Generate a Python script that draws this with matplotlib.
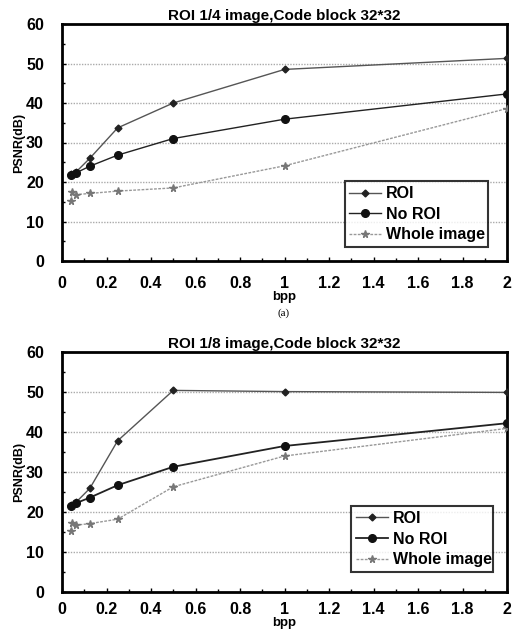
import matplotlib
matplotlib.use("Agg")
import matplotlib.pyplot as plt
from matplotlib.ticker import MultipleLocator

plt.rcParams['font.family'] = ['Liberation Sans', 'DejaVu Sans']

# Data
bpp = [0.04, 0.0625, 0.125, 0.25, 0.5, 1, 2]
bpp_whole = [0.04, 0.045, 0.0625, 0.125, 0.25, 0.5, 1, 2]

titles = ["ROI 1/4 image,Code block 32*32", "ROI 1/8 image,Code block 32*32"]
series_names = ["ROI", "No ROI", "Whole image"]

roi_a = [22.0, 22.5, 26.0, 33.7, 40.0, 48.5, 51.3]
noroi_a = [21.8, 22.3, 24.0, 26.8, 31.0, 35.9, 42.3]
whole_a = [15.2, 17.4, 16.8, 17.1, 17.7, 18.5, 24.1, 38.6]

roi_b = [21.7, 22.4, 25.9, 37.8, 50.4, 50.1, 49.9]
noroi_b = [21.5, 22.2, 23.6, 26.7, 31.3, 36.5, 42.2]
whole_b = [15.2, 17.3, 16.7, 17.1, 18.2, 26.3, 34.0, 40.9]

xticks = [0, 0.2, 0.4, 0.6, 0.8, 1, 1.2, 1.4, 1.6, 1.8, 2]
xticklabels = ["0", "0.2", "0.4", "0.6", "0.8", "1", "1.2", "1.4", "1.6", "1.8", "2"]
yticks = [0, 10, 20, 30, 40, 50, 60]

W, H = 513, 632
fig = plt.figure(figsize=(W / 100, H / 100), dpi=100)

def px_axes(l, t, r, b):
    return fig.add_axes([l / W, 1 - b / H, (r - l) / W, (b - t) / H])

ax1 = px_axes(62, 24, 507, 261)
ax2 = px_axes(62, 352, 507, 592)

datasets = [(ax1, roi_a, noroi_a, whole_a, (0.617, 0.025, 0.358, 0.32), 11, 0),
            (ax2, roi_b, noroi_b, whole_b, (0.632, 0.05, 0.355, 0.28), 7, 0)]

for i, (ax, roi, noroi, whole, lbox, xpad, lpad) in enumerate(datasets):
    ax.plot(bpp, roi, color='#555555', lw=1.0, marker='D', ms=3.5,
            mfc='#222222', mec='#222222', label=series_names[0], zorder=4)
    ax.plot(bpp, noroi, color='#222222', lw=1.3 if i == 1 else 1.0, marker='o', ms=5.5,
            mfc='#111111', mec='#111111', label=series_names[1], zorder=4)
    ax.plot(bpp_whole, whole, color='#999999', lw=1.0, ls=(0, (2, 1)), marker='*', ms=5.5,
            mfc='#777777', mec='#777777', label=series_names[2], zorder=3)
    ax.set_xlim(0, 2)
    ax.set_ylim(0, 60)
    ax.set_xticks(xticks)
    ax.set_xticklabels(xticklabels)
    ax.set_yticks(yticks)
    ax.xaxis.set_minor_locator(MultipleLocator(0.1))
    ax.yaxis.set_minor_locator(MultipleLocator(5))
    ax.tick_params(axis='both', which='major', direction='in', length=3, width=1,
                   labelsize=11.5)
    ax.tick_params(axis='x', which='major', pad=xpad)
    ax.tick_params(axis='y', which='major', pad=13)
    ax.tick_params(axis='both', which='minor', direction='in', length=2, width=1)
    for lab in ax.get_xticklabels() + ax.get_yticklabels():
        lab.set_fontweight('bold')
    for g in [10, 20, 30, 40, 50]:
        ax.axhline(g, color='#aaaaaa', lw=1.0, ls=(0, (1, 1)), zorder=1)
    for s in ax.spines.values():
        s.set_linewidth(2.0)
    ax.set_title(titles[i], fontsize=11, fontweight='bold', pad=3)
    ax.set_ylabel("PSNR(dB)", fontsize=9, fontweight='bold', labelpad=1)
    ax.set_xlabel("bpp", fontsize=9.5, fontweight='bold', labelpad=lpad)
    leg = ax.legend(loc='lower left', bbox_to_anchor=lbox, mode='expand',
                    prop={'weight': 'bold', 'size': 11.5},
                    frameon=True, fancybox=False, edgecolor='black',
                    handlelength=2.0, handletextpad=0.3, borderpad=0.3,
                    labelspacing=0.35)
    leg.get_frame().set_linewidth(1.5)

fig.text(284 / W, 1 - 313 / H, "(a)", ha='center', va='center', fontsize=8,
         family=['Liberation Serif', 'DejaVu Serif'])

fig.savefig("out.png", dpi=100)
